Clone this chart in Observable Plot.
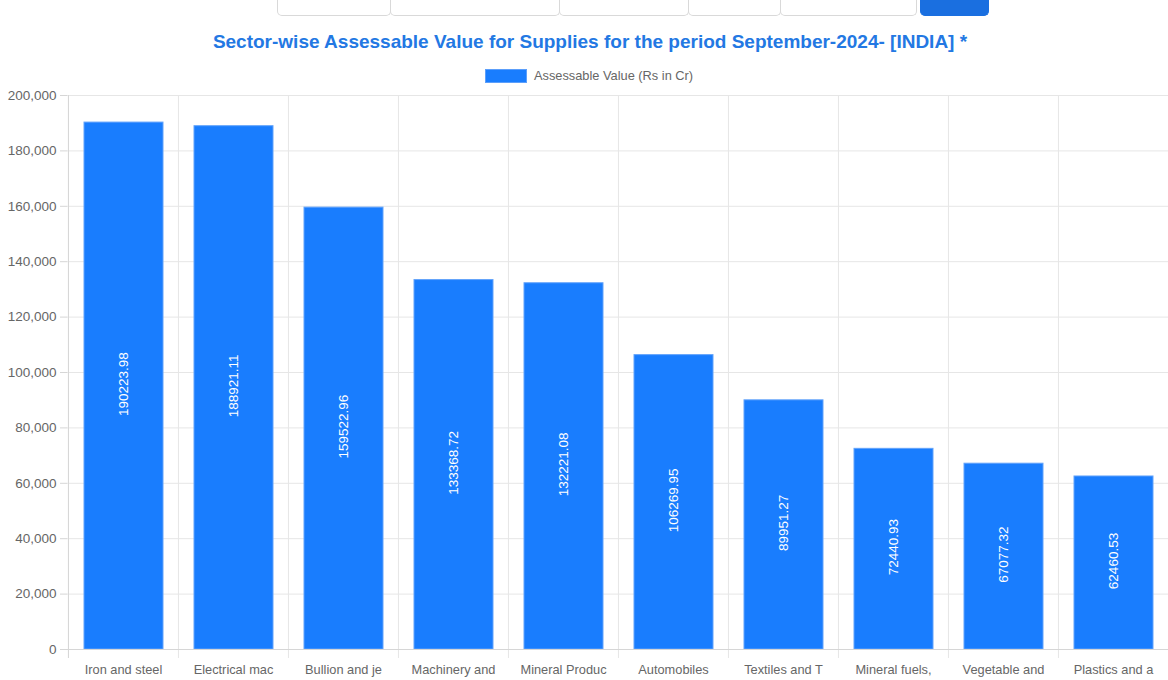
<!DOCTYPE html>
<html>
<head>
<meta charset="utf-8">
<script src="https://cdn.jsdelivr.net/npm/d3@7"></script>
<script src="https://cdn.jsdelivr.net/npm/@observablehq/plot@0.6"></script>
<style>
  html, body { margin: 0; padding: 0; background: #fff; font-family: "Liberation Sans", Arial, sans-serif; }
  #page { position: relative; width: 1168px; height: 680px; overflow: hidden; }
  .tab { position: absolute; top: -4px; height: 20px; border: 1px solid #d9d9d9; border-top: none; border-radius: 0 0 5px 5px; box-sizing: border-box; background: #fff; }
  .tab.active { background: #1a6fe0; border-color: #1a6fe0; }
  #title { position: absolute; top: 31px; left: 0; width: 1180px; text-align: center; font-weight: bold; font-size: 19px; color: #2378e3; }
  #legend { position: absolute; top: 68px; left: 485px; display: flex; align-items: center; font-size: 12.8px; color: #666; }
  #legend .sw { width: 40px; height: 12px; background: #197dfe; border: 1px solid #5c9ffb; margin-right: 7px; }
  #chart { position: absolute; top: 88px; left: 0; }
</style>
</head>
<body>
<div id="page">
  <div class="tab" style="left:277px;width:114px"></div>
  <div class="tab" style="left:390px;width:170px"></div>
  <div class="tab" style="left:559px;width:130px"></div>
  <div class="tab" style="left:688px;width:93px"></div>
  <div class="tab" style="left:780px;width:137px"></div>
  <div class="tab active" style="left:920px;width:69px"></div>
  <div id="title">Sector-wise Assessable Value for Supplies for the period September-2024- [INDIA] *</div>
  <div id="legend"><div class="sw"></div><span>Assessable Value (Rs in Cr)</span></div>
  <div id="chart"></div>
</div>
<script>
const sectors = ["Iron and steel", "Electrical mac", "Bullion and je", "Machinery and", "Mineral Produc", "Automobiles", "Textiles and T", "Mineral fuels,", "Vegetable and", "Plastics and a"];
const values = [190223.98, 188921.11, 159522.96, 133368.72, 132221.08, 106269.95, 89951.27, 72440.93, 67077.32, 62460.53];
const valueLabels = ["190223.98", "188921.11", "159522.96", "133368.72", "132221.08", "106269.95", "89951.27", "72440.93", "67077.32", "62460.53"];
const yTicks = [0, 20000, 40000, 60000, 80000, 100000, 120000, 140000, 160000, 180000, 200000];

const data = sectors.map((s, i) => ({sector: s, value: values[i], label: valueLabels[i]}));

const W = 1168, H = 592, ML = 67, MR = 0;
const step = (W - ML - MR) / sectors.length;

const chart = Plot.plot({
  width: W,
  height: H,
  marginLeft: ML,
  marginRight: MR,
  marginTop: 7,
  marginBottom: 31,
  style: {fontFamily: "'Liberation Sans', Arial, sans-serif", fontSize: "12px", background: "#fff"},
  x: {domain: sectors, padding: 0, label: null},
  y: {domain: [0, 200000], label: null},
  marks: [
    Plot.gridY(yTicks, {stroke: "#e6e6e6", strokeOpacity: 1}),
    Plot.ruleX(sectors, {x: d => d, dx: -step / 2, stroke: "#e6e6e6", strokeOpacity: 1, insetBottom: -9}),
    Plot.ruleX([0], {x: () => sectors[0], dx: -step / 2, stroke: "#d6d6d6", insetBottom: -9}),
    Plot.barY(data, {x: "sector", y: "value", fill: "#197dfe", stroke: "#62a3fb", strokeWidth: 1, insetLeft: 16, insetRight: 15}),
    Plot.text(data, {x: "sector", y: d => d.value / 2, text: "label", rotate: -90, fill: "#fff", fontSize: 13.5, dx: 0.5, dy: -2}),
    Plot.ruleY([0], {stroke: "#d6d6d6"}),
    Plot.axisY(yTicks, {tickFormat: d3.format(","), tickSize: 7, tickPadding: 4, stroke: "#d6d6d6", fill: "#666", fontSize: 13.5, label: null}),
    Plot.axisX({tickSize: 0, tickPadding: 15, fill: "#666", fontSize: 12.8, label: null})
  ]
});
document.getElementById("chart").appendChild(chart);
</script>
</body>
</html>
